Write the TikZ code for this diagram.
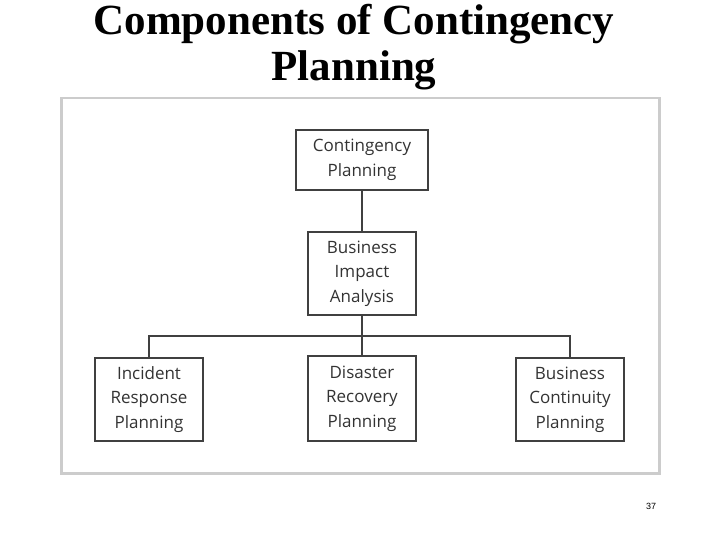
\documentclass[tikz,border=0pt]{standalone}
\usepackage{fontspec}
\setmainfont{Liberation Serif}
\newfontfamily\boxfont{Open Sans}
\newfontfamily\numfont{Liberation Sans}
\begin{document}
\begin{tikzpicture}[x=1pt,y=-1pt,
  bx/.style={draw=black!75,line width=1.6pt,fill=white,align=center,font=\boxfont\fontsize{17}{24.5}\selectfont,text=black!80,inner sep=0pt},
  ln/.style={draw=black!75,line width=1.4pt}]
\useasboundingbox (0,0) rectangle (720,540);
\node[draw=black!20,line width=2.5pt,minimum width=598,minimum height=375,anchor=north west] (frame) at (60,97) {};
\node[font=\bfseries\fontsize{43}{48}\selectfont] (t1) at (354,24) {Components of Contingency};
\node[font=\bfseries\fontsize{43}{48}\selectfont] (t2) at (354,70) {Planning};
\node[font=\numfont\fontsize{9}{11}\selectfont] (pg) at (651,506) {37};
\node[bx,minimum width=132,minimum height=60] (cp) at (362,160) {Contingency\\Planning};
\node[bx,minimum width=108,minimum height=83] (bia) at (362,273.5) {Business\\Impact\\Analysis};
\node[bx,minimum width=108,minimum height=83] (irp) at (149,399.5) {Incident\\Response\\Planning};
\node[bx,minimum width=108,minimum height=85] (drp) at (362,398.5) {Disaster\\Recovery\\Planning};
\node[bx,minimum width=108,minimum height=83] (bcp) at (570,399.5) {Business\\Continuity\\Planning};
\coordinate (j) at (362,336);
\draw[ln] (cp.south) -- (bia.north);
\draw[ln] (bia.south) -- (drp.north);
\draw[ln] (irp.north) |- (j) -| (bcp.north);
\end{tikzpicture}
\end{document}
